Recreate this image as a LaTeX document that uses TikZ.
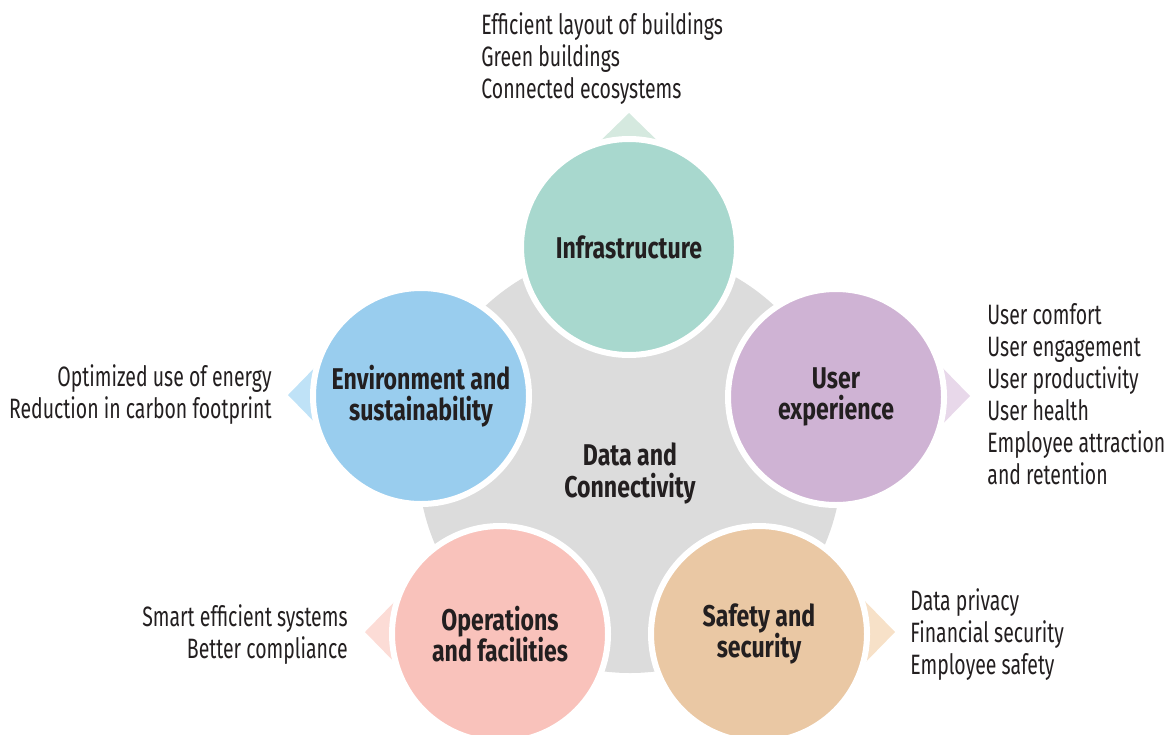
\documentclass[tikz,border=0pt]{standalone}
\usepackage{fontspec}
\setmainfont{Fira Sans}
\newfontfamily\regfont{Fira Sans}[FakeStretch=0.695]
\newfontfamily\boldfont{Fira Sans}[FakeStretch=0.77]
\usetikzlibrary{calc}
\definecolor{ink}{HTML}{231F20}
\definecolor{coregrey}{HTML}{DCDCDC}
\definecolor{cInfC}{HTML}{A8D8CE}
\definecolor{cUxC}{HTML}{CFB3D4}
\definecolor{cSafC}{HTML}{EAC8A4}
\definecolor{cOpsC}{HTML}{F9C2BB}
\definecolor{cEnvC}{HTML}{99CDEE}
\definecolor{tInfC}{HTML}{D5E9DF}
\definecolor{tUxC}{HTML}{E8D8EA}
\definecolor{tSafC}{HTML}{F7E1C8}
\definecolor{tOpsC}{HTML}{FCDCD6}
\definecolor{tEnvC}{HTML}{BFE2F7}
\begin{document}
\begin{tikzpicture}[x=0.5pt,y=-0.5pt,
  petal/.style={circle, minimum size=108pt, inner sep=0pt, draw=white, line width=3pt,
    font=\boldfont\bfseries\fontsize{15}{15.5}\selectfont, text=ink, align=center},
  note/.style={font=\regfont\fontsize{14}{16}\selectfont, text=ink, inner sep=0pt},
  hub/.style={font=\boldfont\bfseries\fontsize{15}{16}\selectfont, text=ink, inner sep=0pt, align=center}]
\useasboundingbox (0,0) rectangle (1170,734);
\clip (0,0) rectangle (1170,734);
% centres
\coordinate (pInf) at (629,247);
\coordinate (pUx) at (836,396);
\coordinate (pSaf) at (759,634);
\coordinate (pOps) at (500,634);
\coordinate (pEnv) at (421,396);
% grey core
\fill[coregrey] (630,461) circle [radius=212];
% pointers
\fill[tInfC] ($(pInf)+(0,-134)$) -- ($(pInf)+(-40,-95)$) -- ($(pInf)+(40,-95)$) -- cycle;
\fill[tUxC] ($(pUx)+(134,0)$) -- ($(pUx)+(95,-40)$) -- ($(pUx)+(95,40)$) -- cycle;
\fill[tSafC] ($(pSaf)+(136,-2)$) -- ($(pSaf)+(97,-42)$) -- ($(pSaf)+(97,38)$) -- cycle;
\fill[tOpsC] ($(pOps)+(-135,-2)$) -- ($(pOps)+(-96,-42)$) -- ($(pOps)+(-96,38)$) -- cycle;
\fill[tEnvC] ($(pEnv)+(-133,-1)$) -- ($(pEnv)+(-94,-41)$) -- ($(pEnv)+(-94,39)$) -- cycle;
% petals
\node[petal, fill=cInfC] (inf) at (pInf) {Infrastructure};
\node[petal, fill=cUxC] (ux) at ($(pUx)+(0,1)$) {User\\experience};
\node[petal, fill=cSafC] (saf) at (pSaf) {Safety and\\security};
\node[petal, fill=cOpsC] (ops) at (pOps) {Operations\\and facilities};
\node[petal, fill=cEnvC] (env) at (pEnv) {Environment and\\sustainability};
\node[hub] (core) at (630,473) {Data and\\Connectivity};
% notes
\node[note, anchor=north west, align=left] (nInf) at (481,12) {Efficient layout of buildings\\Green buildings\\Connected ecosystems};
\node[note, anchor=north west, align=left] (nUx) at (987,303) {User comfort\\User engagement\\User productivity\\User health\\Employee attraction\\and retention};
\node[note, anchor=north west, align=left] (nSaf) at (910,588) {Data privacy\\Financial security\\Employee safety};
\node[note, anchor=north east, align=right] (nOps) at (348,604) {Smart efficient systems\\Better compliance};
\node[note, anchor=north east, align=right] (nEnv) at (272,364) {Optimized use of energy\\Reduction in carbon footprint};
\end{tikzpicture}
\end{document}
